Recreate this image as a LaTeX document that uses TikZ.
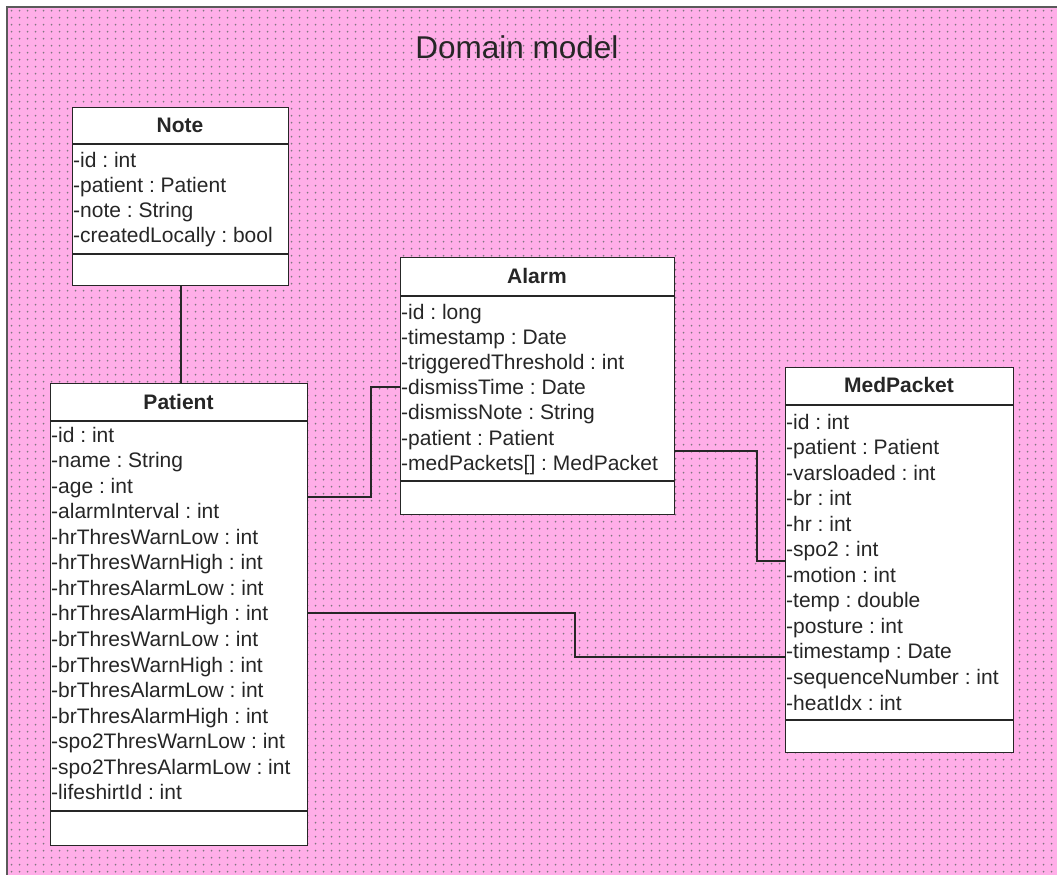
\documentclass[tikz,border=0pt]{standalone}
\usepackage{fontspec}
\setmainfont{Liberation Sans}
\usetikzlibrary{patterns}
\definecolor{bgpink}{RGB}{255,174,232}
\definecolor{dotgray}{RGB}{128,118,128}
\definecolor{ink}{RGB}{38,38,38}
\definecolor{framegray}{RGB}{90,90,90}
% small grey dots on the page background
\pgfdeclarepatternformonly{pinkdots}{\pgfqpoint{0pt}{0pt}}{\pgfqpoint{8pt}{6.8pt}}{\pgfqpoint{8pt}{6.8pt}}{%
  \pgfpathcircle{\pgfqpoint{4pt}{3.4pt}}{1pt}\pgfusepath{fill}}

\begin{document}
\frenchspacing
\begin{tikzpicture}[x=1pt,y=-1pt,
  box/.style={draw=ink, line width=1.4pt, fill=white, inner sep=0pt, anchor=north west},
  sep/.style={draw=ink, line width=1.4pt},
  attr/.style={anchor=base west, inner sep=0pt, font=\fontsize{21}{24}\selectfont, text=ink},
  head/.style={anchor=base, inner sep=0pt, font=\fontsize{21}{24}\selectfont\bfseries, text=ink},
  link/.style={draw=ink, line width=1.8pt},
  frame/.style={draw=framegray, line width=2pt}]
\useasboundingbox (0,0) rectangle (1057,875);
\fill[white] (0,0) rectangle (1057,875);
\fill[bgpink] (7,7) rectangle (1057,875);
\fill[pattern=pinkdots, pattern color=dotgray] (7,7) rectangle (1057,875);
\draw[frame] (1057,7) -- (7,7) -- (7,875);

\node[anchor=base, inner sep=0pt, font=\fontsize{31.5}{36}\selectfont, text=ink] (title) at (517,59) {Domain model};

% ---- Note ----
\node[box, minimum width=216, minimum height=178] (note) at (72,107) {};
\node[head] (note-title) at (180,132.5) {Note};
\draw[sep] (note.west |- 0,144) -- (note.east |- 0,144);
\foreach \t [count=\i] in {-id : int,-patient : Patient,-note : String,-createdLocally : bool}
  \node[attr] (note-\i) at (73,{167+25*(\i-1)}) {\t};
\draw[sep] (note.west |- 0,254) -- (note.east |- 0,254);

% ---- Patient ----
\node[box, minimum width=257, minimum height=462] (patient) at (50,383) {};
\node[head] (patient-title) at (178.5,409.5) {Patient};
\draw[sep] (patient.west |- 0,421) -- (patient.east |- 0,421);
\foreach \t [count=\i] in {-id : int,-name : String,-age : int,-alarmInterval : int,
  -hrThresWarnLow : int,-hrThresWarnHigh : int,-hrThresAlarmLow : int,-hrThresAlarmHigh : int,
  -brThresWarnLow : int,-brThresWarnHigh : int,-brThresAlarmLow : int,-brThresAlarmHigh : int,
  -spo2ThresWarnLow : int,-spo2ThresAlarmLow : int,-lifeshirtId : int}
  \node[attr] (patient-\i) at (51,{442+25.57*(\i-1)}) {\t};
\draw[sep] (patient.west |- 0,811) -- (patient.east |- 0,811);

% ---- Alarm ----
\node[box, minimum width=274, minimum height=257] (alarm) at (400,257) {};
\node[head] (alarm-title) at (537,283.5) {Alarm};
\draw[sep] (alarm.west |- 0,296) -- (alarm.east |- 0,296);
\foreach \t [count=\i] in {-id : long,-timestamp : Date,-triggeredThreshold : int,-dismissTime : Date,
  -dismissNote : String,-patient : Patient,-medPackets[] : MedPacket}
  \node[attr] (alarm-\i) at (401,{319+25.2*(\i-1)}) {\t};
\draw[sep] (alarm.west |- 0,481) -- (alarm.east |- 0,481);

% ---- MedPacket ----
\node[box, minimum width=228, minimum height=385] (medpacket) at (785,367) {};
\node[head] (medpacket-title) at (899,392.5) {MedPacket};
\draw[sep] (medpacket.west |- 0,405) -- (medpacket.east |- 0,405);
\foreach \t [count=\i] in {-id : int,-patient : Patient,-varsloaded : int,-br : int,-hr : int,
  -spo2 : int,-motion : int,-temp : double,-posture : int,-timestamp : Date,
  -sequenceNumber : int,-heatIdx : int}
  \node[attr] (medpacket-\i) at (786,{429+25.55*(\i-1)}) {\t};
\draw[sep] (medpacket.west |- 0,720) -- (medpacket.east |- 0,720);

% ---- associations ----
\draw[link] (note.south) -- (note.south |- patient.north);

\coordinate (pa1) at (371,497);
\coordinate (pa2) at (371,387);
\draw[link] (pa1 -| patient.east) -- (pa1) -- (pa2) -- (pa2 -| alarm.west);

\coordinate (am1) at (757,451);
\coordinate (am2) at (757,561);
\draw[link] (am1 -| alarm.east) -- (am1) -- (am2) -- (am2 -| medpacket.west);

\coordinate (pm1) at (575,613);
\coordinate (pm2) at (575,657);
\draw[link] (pm1 -| patient.east) -- (pm1) -- (pm2) -- (pm2 -| medpacket.west);
\end{tikzpicture}
\end{document}
